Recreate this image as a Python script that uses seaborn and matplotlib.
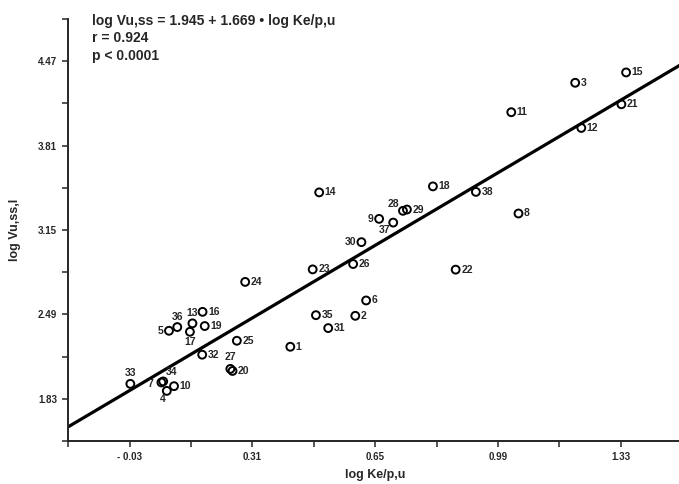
import numpy as np
import pandas as pd
import matplotlib
matplotlib.use("Agg")
import matplotlib.pyplot as plt
import seaborn as sns

# --- Data ---
point_ids = [str(i) for i in range(1, 39)]
log_ke = [0.415, 0.595, 1.204, 0.073, 0.079, 0.625, 0.058, 1.047, 0.661, 0.093,
          1.027, 1.221, 0.144, 0.495, 1.345, 0.172, 0.137, 0.810, 0.178, 0.255,
          1.332, 0.873, 0.477, 0.290, 0.267, 0.589, 0.249, 0.727, 0.738, 0.612,
          0.520, 0.171, -0.028, 0.063, 0.486, 0.102, 0.700, 0.929]
log_vu = [2.237, 2.479, 4.301, 1.892, 2.362, 2.599, 1.958, 3.279, 3.237, 1.929,
          4.071, 3.948, 2.420, 3.444, 4.382, 2.510, 2.354, 3.491, 2.399, 2.048,
          4.133, 2.840, 2.842, 2.744, 2.284, 2.884, 2.064, 3.300, 3.310, 3.055,
          2.383, 2.175, 1.947, 1.966, 2.484, 2.391, 3.208, 3.448]

intercept = 1.945
slope = 1.669
r_value = 0.924

x_ticks = [-0.20, -0.03, 0.14, 0.31, 0.48, 0.65, 0.82, 0.99, 1.16, 1.33, 1.50]
x_labels = ["", "- 0.03", "", "0.31", "", "0.65", "", "0.99", "", "1.33", ""]
y_ticks = [1.50, 1.83, 2.16, 2.49, 2.82, 3.15, 3.48, 3.81, 4.14, 4.47, 4.80]
y_labels = ["", "1.83", "", "2.49", "", "3.15", "", "3.81", "", "4.47", ""]

df = pd.DataFrame({"id": point_ids, "x": log_ke, "y": log_vu})

# label placement (offset in points, alignment)
right = (4, 0, "left", "center")
label_pos = {i: right for i in point_ids}
label_pos.update({
    "5": (-4, 0, "right", "center"),
    "9": (-4, 0, "right", "center"),
    "30": (-4, 0, "right", "center"),
    "7": (-6, -1, "right", "center"),
    "36": (0, 4, "center", "bottom"),
    "13": (0, 4, "center", "bottom"),
    "27": (0, 5, "center", "bottom"),
    "33": (0, 4, "center", "bottom"),
    "34": (2, 3, "left", "bottom"),
    "28": (-3, 1, "right", "bottom"),
    "17": (0, -4, "center", "top"),
    "4": (-3, -2, "center", "top"),
    "37": (-2, -2, "right", "top"),
})

# --- Plot ---
sns.set_style("ticks")
plt.rcParams["font.family"] = ["Liberation Sans", "DejaVu Sans"]
plt.rcParams["font.weight"] = "bold"

fig = plt.figure(figsize=(6.79, 4.84), dpi=100)
ax = fig.add_axes([0.1005, 0.0888, 0.904, 0.872])

line_x = np.array([x_ticks[0], x_ticks[-1]])
sns.lineplot(x=line_x, y=intercept + slope * line_x, ax=ax, color="black", lw=2.3)

sns.scatterplot(data=df, x="x", y="y", ax=ax, s=32, facecolors="none",
                edgecolor="black", linewidth=1.4, zorder=3)

for pid, xv, yv in zip(point_ids, log_ke, log_vu):
    dx, dy, ha, va = label_pos[pid]
    ax.annotate(pid, (xv, yv), xytext=(dx, dy), textcoords="offset points",
                ha=ha, va=va, fontsize=7.5, fontweight="bold")

ax.set_xlim(x_ticks[0], x_ticks[-1])
ax.set_ylim(y_ticks[0], y_ticks[-1])
ax.set_xticks(x_ticks)
ax.set_xticklabels(x_labels)
ax.set_yticks(y_ticks)
ax.set_yticklabels(y_labels)
ax.tick_params(axis="both", length=4, width=1.1, labelsize=7, pad=4)
for lab in ax.get_xticklabels() + ax.get_yticklabels():
    lab.set_fontweight("bold")

sns.despine(ax=ax)
ax.spines["left"].set_linewidth(1.4)
ax.spines["bottom"].set_linewidth(1.4)

ax.set_xlabel("log Ke/p,u", fontsize=9, fontweight="bold", labelpad=5)
ax.set_ylabel("log Vu,ss,l", fontsize=9, fontweight="bold", labelpad=12)

eq_text = (f"log Vu,ss = {intercept:.3f} + {slope:.3f} \u2022 log Ke/p,u\n"
           f"r = {r_value:.3f}\np < 0.0001")
fig.text(0.135, 0.972, eq_text, ha="left", va="top", fontsize=10,
         fontweight="bold", linespacing=1.32)

fig.savefig("out.png", dpi=100)
